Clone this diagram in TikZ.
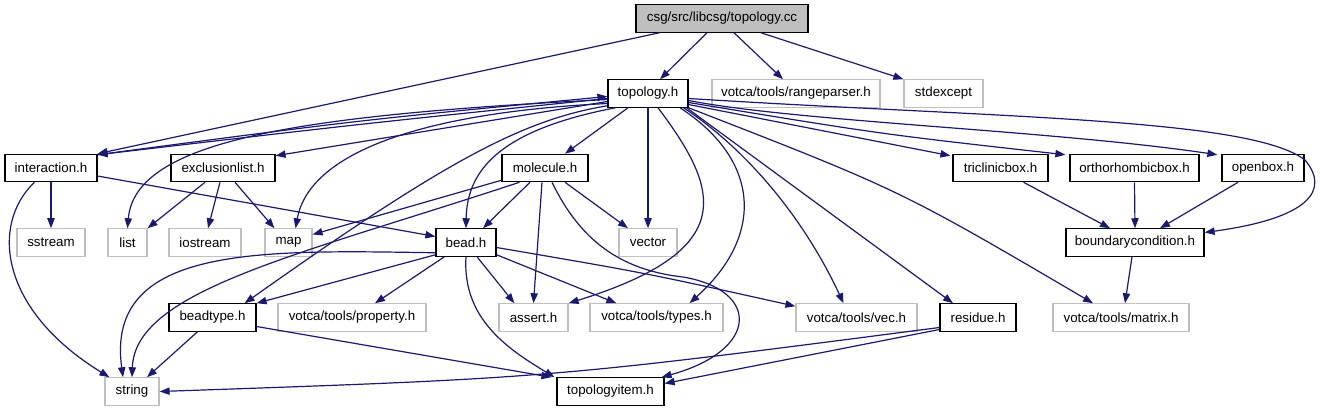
\documentclass[tikz,border=0pt]{standalone}
\usepackage{fontspec}
\setmainfont{Liberation Sans}
\usetikzlibrary{arrows.meta,calc}
\definecolor{edgeblue}{HTML}{191970}
\definecolor{sysgray}{HTML}{BFBFBF}
\begin{document}
\begin{tikzpicture}[
    x=0.75pt,
    y=-0.75pt,
    font=\fontsize{10}{12}\selectfont,
    >={Triangle[length=7.5pt,width=5.5pt]},
    header/.style={
        rectangle,
        draw=black,
        line width=0.9pt,
        inner sep=0pt,
        minimum height=20.5pt,
        minimum width=#1*0.75pt
    },
    sysfile/.style={
        header=#1,
        draw=sysgray
    },
    source/.style={
        header=#1,
        fill=sysgray
    },
    dep/.style={
        ->,
        draw=edgeblue,
        line width=0.9pt
    }
]
\useasboundingbox (0,0) rectangle (1320,411);

% Files
\node [source=172] (cc) at (722,18.5) {csg/src/libcsg/topology.cc};
\node [header=80] (topo) at (648,93.5) {topology.h};
\node [sysfile=168] (range) at (796,93.5) {votca/tools/rangeparser.h};
\node [sysfile=79] (stdexc) at (943.5,93.5) {stdexcept};
\node [header=92] (inter) at (51,168) {interaction.h};
\node [header=104] (excl) at (223,168) {exclusionlist.h};
\node [header=86] (mol) at (545,168) {molecule.h};
\node [header=95] (tric) at (1000.5,168) {triclinicbox.h};
\node [header=129] (ortho) at (1134.5,168) {orthorhombicbox.h};
\node [header=82] (openb) at (1263,168) {openbox.h};
\node [sysfile=68] (sstream) at (51,242.5) {sstream};
\node [sysfile=39] (list) at (127.5,242.5) {list};
\node [sysfile=72] (iostream) at (205,242.5) {iostream};
\node [sysfile=47] (map) at (288.5,242.5) {map};
\node [header=60] (bead) at (466,242.5) {bead.h};
\node [sysfile=58] (vector) at (648,242.5) {vector};
\node [header=138] (bc) at (1135,242.5) {boundarycondition.h};
\node [header=87] (beadtype) at (212.5,317.5) {beadtype.h};
\node [sysfile=148] (prop) at (352,317.5) {votca/tools/property.h};
\node [sysfile=69] (assert) at (533.5,317.5) {assert.h};
\node [sysfile=133] (types) at (656.5,317.5) {votca/tools/types.h};
\node [sysfile=121] (vec) at (856.5,317.5) {votca/tools/vec.h};
\node [header=76] (residue) at (978,317.5) {residue.h};
\node [sysfile=136] (matrix) at (1121,317.5) {votca/tools/matrix.h};
\node [sysfile=54] (string) at (132,391.5) {string};
\node [header=107] (titem) at (610.5,391.5) {topologyitem.h};

% Includes of topology.cc
\draw [dep] ($(cc.south west)+(24,0)$) -- (inter.north east);
\draw [dep] ($(cc.south)+(-15,0)$) -- ($(topo.north)+(12,0)$);
\draw [dep] ($(cc.south)+(12,0)$) -- ($(range.north)+(-13,0)$);
\draw [dep] ($(cc.south)+(39,0)$) -- (stdexc.north west);

% Includes of topology.h, to the left
\draw [dep] ($(inter.north east)+(0,1)$) .. controls (360,120) .. ($(topo.west)+(0,3)$);
\draw [dep] ($(topo.west)+(0,5)$) .. controls (360,124) .. ($(inter.north east)+(0,1)$);
\draw [dep] ($(topo.west)+(0,8)$) -- ($(excl.north east)+(0,2)$);
\draw [dep] ($(topo.west)+(0,6)$) .. controls (300,115) and (135,140) .. (list.north);
\draw [dep] ($(topo.west)+(0,10)$) .. controls (430,112) and (310,150) .. ($(map.north)+(7,0)$);
\draw [dep] ($(topo.south west)+(0,-2)$) .. controls (520,120) and (440,165) .. ($(beadtype.north east)+(-12,0)$);
\draw [dep] ($(topo.south west)+(8,0)$) .. controls (500,130) and (467,170) .. (bead.north);

% Includes of topology.h, downwards
\draw [dep] ($(topo.south)+(-20,0)$) -- ($(mol.north)+(20,0)$);
\draw [dep] (topo.south) -- (vector.north);
\draw [dep] ($(topo.south)+(10,0)$) .. controls (720,190) and (740,250) .. (assert.north east);
\draw [dep] ($(topo.south)+(32,0)$) .. controls (760,160) and (765,235) .. ($(types.north)+(33,0)$);
\draw [dep] ($(topo.south east)+(-5,0)$) .. controls (740,145) and (800,210) .. ($(vec.north)+(-13,0)$);
\draw [dep] ($(topo.south east)+(-2,0)$) -- ($(residue.north)+(-25,0)$);
\draw [dep] (topo.south east) .. controls (900,190) .. ($(matrix.north)+(-28,0)$);

% Includes of topology.h, to the right
\draw [dep] ($(topo.east)+(0,11)$) -- ($(tric.north west)+(-2,2)$);
\draw [dep] ($(topo.east)+(0,9)$) .. controls (880,134) .. ($(ortho.north west)+(-4,1)$);
\draw [dep] ($(topo.east)+(0,7)$) .. controls (800,122) and (1050,130) .. ($(openb.north west)+(-4,1)$);
\draw [dep] ($(topo.east)+(0,5)$) .. controls (1000,118) and (1250,118) .. (1305,160)
    .. controls (1330,190) and (1310,218) .. ($(bc.east)+(0,-10)$);

% Includes of molecule.h
\draw [dep] ($(mol.south)+(-15,0)$) -- ($(bead.north)+(17,0)$);
\draw [dep] ($(mol.south west)+(0,-2)$) -- ($(map.east)+(0,-8)$);
\draw [dep] ($(mol.south west)+(18,0)$) .. controls (300,255) and (135,290) .. (string.north);
\draw [dep] ($(mol.south)+(20,0)$) -- ($(vector.north)+(-20,0)$);
\draw [dep] ($(mol.south)+(-3,0)$) -- (assert.north);
\draw [dep] ($(mol.south)+(7,0)$) .. controls (580,240) and (620,270) .. (683,277)
    .. controls (760,290) and (760,350) .. ($(titem.north east)+(-3,0)$);

% Includes of bead.h
\draw [dep] ($(bead.south west)+(0,-2)$) -- (beadtype.north east);
\draw [dep] ($(bead.south west)+(9,0)$) -- ($(prop.north)+(23,0)$);
\draw [dep] ($(bead.south west)+(0,-4)$) .. controls (260,250) and (105,245) .. ($(string.north)+(-9,0)$);
\draw [dep] ($(bead.south)+(11,0)$) -- ($(assert.north west)+(16,0)$);
\draw [dep] ($(bead.south east)+(0,-2)$) -- ($(types.north west)+(27,0)$);
\draw [dep] ($(bead.east)+(0,5)$) .. controls (646,273) .. ($(vec.north west)+(0,3)$);
\draw [dep] (bead.south) .. controls (462,320) and (510,350) .. ($(titem.north west)+(-2,0)$);

% Other includes
\draw [dep] (inter.south) -- (sstream.north);
\draw [dep] ($(inter.south west)+(30,0)$) .. controls (-10,225) and (0,310) .. ($(string.north west)+(5,0)$);
\draw [dep] ($(inter.east)+(0,8)$) -- ($(bead.west)+(0,-6)$);
\draw [dep] ($(excl.south)+(-18,0)$) -- (list.north east);
\draw [dep] ($(excl.south)+(-3,0)$) -- ($(iostream.north)+(3,0)$);
\draw [dep] ($(excl.south)+(12,0)$) -- ($(map.north west)+(10,0)$);
\draw [dep] ($(beadtype.south)+(-15,0)$) -- ($(string.north)+(15,0)$);
\draw [dep] ($(beadtype.east)+(0,9)$) -- ($(titem.north west)+(-5,0)$);
\draw [dep] ($(residue.west)+(0,10)$) .. controls (550,378) .. (string.east);
\draw [dep] ($(residue.west)+(0,12)$) -- ($(titem.east)+(0,-8)$);
\draw [dep] ($(tric.south)+(23,0)$) -- ($(bc.north)+(-25,0)$);
\draw [dep] (ortho.south) -- (bc.north);
\draw [dep] ($(openb.south)+(-25,0)$) -- ($(bc.north)+(25,0)$);
\draw [dep] ($(bc.south)+(-3,0)$) -- ($(matrix.north)+(4,0)$);

\end{tikzpicture}
\end{document}
